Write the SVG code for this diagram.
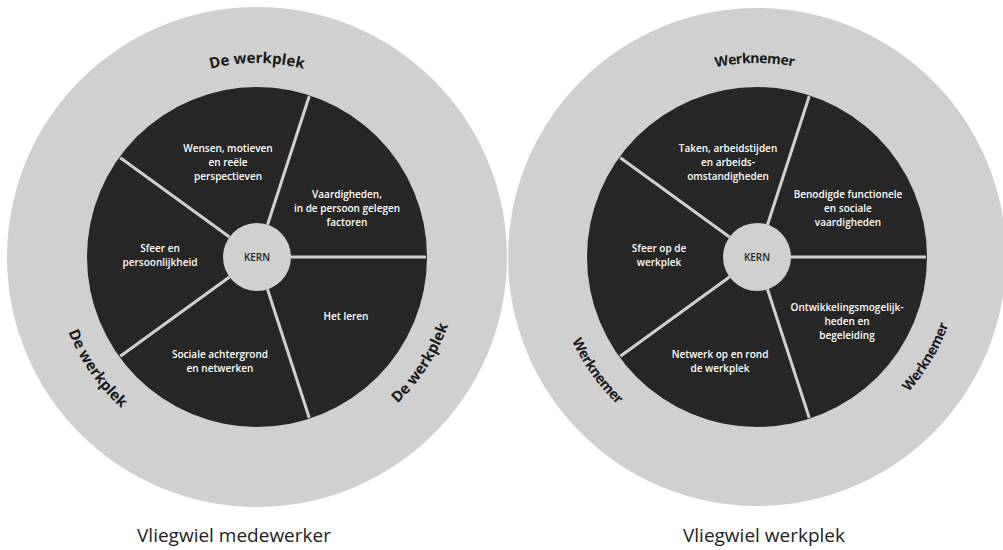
<svg xmlns="http://www.w3.org/2000/svg" width="1003" height="550" viewBox="0 0 1003 550">
  <style>
    .ring { fill: #d0d0d0; }
    .core { fill: #262626; }
    .kern { fill: #d0d0d0; }
    .divider { stroke: #d0d0d0; stroke-width: 3; }
    .seg { font-family: "Open Sans", "Liberation Sans", sans-serif; font-weight: 600; font-size: 10px; fill: #ffffff; text-anchor: middle; }
    .kern-label { font-family: "Open Sans", "Liberation Sans", sans-serif; font-weight: 600; font-size: 10px; fill: #262626; text-anchor: middle; }
    .rim { font-family: "Open Sans", "Liberation Sans", sans-serif; font-weight: 700; font-size: 15px; fill: #1a1a1a; text-anchor: middle; }
    .rim-tight { font-size: 14px; letter-spacing: -0.5px; }
    .caption { font-family: "Open Sans", "Liberation Sans", sans-serif; font-size: 19px; fill: #222222; text-anchor: middle; }
  </style>
  <defs>
    <!-- arcs for the rim labels: top arcs run clockwise, bottom arcs counter-clockwise -->
    <path id="arcTopL" d="M 63 257 A 194 194 0 0 1 451 257" fill="none"/>
    <path id="arcBotL" d="M 54 257 A 203 203 0 0 0 460 257" fill="none"/>
    <path id="arcTopR" d="M 563 257 A 194 194 0 0 1 951 257" fill="none"/>
    <path id="arcBotR" d="M 554 257 A 203 203 0 0 0 960 257" fill="none"/>
  </defs>

  <rect width="1003" height="550" fill="#ffffff"/>

  <!-- Flywheel: employee -->
  <g id="wheel-medewerker">
    <circle class="ring" cx="257" cy="257" r="250"/>
    <circle class="core" cx="257" cy="257" r="170"/>
  </g>

  <!-- Flywheel: workplace -->
  <g id="wheel-werkplek">
    <circle class="ring" cx="757" cy="257" r="249"/>
    <circle class="core" cx="757" cy="257" r="170"/>
  </g>

  <!-- Dividers between the segments -->
  <g id="connectors">
    <g transform="translate(257 257)">
      <line class="divider" x1="34" y1="0" x2="169" y2="0"/>
      <line class="divider" x1="34" y1="0" x2="169" y2="0" transform="rotate(72)"/>
      <line class="divider" x1="34" y1="0" x2="169" y2="0" transform="rotate(144)"/>
      <line class="divider" x1="34" y1="0" x2="169" y2="0" transform="rotate(216)"/>
      <line class="divider" x1="34" y1="0" x2="169" y2="0" transform="rotate(288)"/>
    </g>
    <g transform="translate(757 257)">
      <line class="divider" x1="34" y1="0" x2="169" y2="0"/>
      <line class="divider" x1="34" y1="0" x2="169" y2="0" transform="rotate(72)"/>
      <line class="divider" x1="34" y1="0" x2="169" y2="0" transform="rotate(144)"/>
      <line class="divider" x1="34" y1="0" x2="169" y2="0" transform="rotate(216)"/>
      <line class="divider" x1="34" y1="0" x2="169" y2="0" transform="rotate(288)"/>
    </g>
  </g>

  <!-- Left wheel nodes -->
  <g id="kern-l">
    <circle class="kern" cx="257" cy="257" r="34"/>
    <text class="kern-label" x="257" y="261">KERN</text>
  </g>
  <g id="seg-l-wensen">
    <text class="seg" x="228" y="152">Wensen, motieven</text>
    <text class="seg" x="228" y="166">en reële</text>
    <text class="seg" x="228" y="180">perspectieven</text>
  </g>
  <g id="seg-l-vaardigheden">
    <text class="seg" x="347" y="198">Vaardigheden,</text>
    <text class="seg" x="347" y="212">in de persoon gelegen</text>
    <text class="seg" x="347" y="226">factoren</text>
  </g>
  <g id="seg-l-sfeer">
    <text class="seg" x="160" y="252">Sfeer en</text>
    <text class="seg" x="160" y="266">persoonlijkheid</text>
  </g>
  <g id="seg-l-leren">
    <text class="seg" x="346" y="320">Het leren</text>
  </g>
  <g id="seg-l-sociaal">
    <text class="seg" x="220" y="358">Sociale achtergrond</text>
    <text class="seg" x="220" y="372">en netwerken</text>
  </g>
  <g id="rim-l">
    <text class="rim"><textPath href="#arcTopL" startOffset="50%">De werkplek</textPath></text>
    <text class="rim"><textPath href="#arcBotL" startOffset="19.4%">De werkplek</textPath></text>
    <text class="rim"><textPath href="#arcBotL" startOffset="81.7%">De werkplek</textPath></text>
  </g>

  <!-- Right wheel nodes -->
  <g id="kern-r">
    <circle class="kern" cx="757" cy="257" r="34"/>
    <text class="kern-label" x="757" y="261">KERN</text>
  </g>
  <g id="seg-r-taken">
    <text class="seg" x="728" y="152">Taken, arbeidstijden</text>
    <text class="seg" x="728" y="166">en arbeids-</text>
    <text class="seg" x="728" y="180">omstandigheden</text>
  </g>
  <g id="seg-r-benodigd">
    <text class="seg" x="848" y="198">Benodigde functionele</text>
    <text class="seg" x="848" y="212">en sociale</text>
    <text class="seg" x="848" y="226">vaardigheden</text>
  </g>
  <g id="seg-r-sfeer">
    <text class="seg" x="659" y="252">Sfeer op de</text>
    <text class="seg" x="659" y="266">werkplek</text>
  </g>
  <g id="seg-r-ontwikkeling">
    <text class="seg" x="847" y="311">Ontwikkelingsmogelijk-</text>
    <text class="seg" x="847" y="325">heden en</text>
    <text class="seg" x="847" y="339">begeleiding</text>
  </g>
  <g id="seg-r-netwerk">
    <text class="seg" x="720" y="358">Netwerk op en rond</text>
    <text class="seg" x="720" y="372">de werkplek</text>
  </g>
  <g id="rim-r">
    <text class="rim rim-tight"><textPath href="#arcTopR" startOffset="49.6%">Werknemer</textPath></text>
    <text class="rim rim-tight"><textPath href="#arcBotR" startOffset="19.7%">Werknemer</textPath></text>
    <text class="rim rim-tight"><textPath href="#arcBotR" startOffset="83%">Werknemer</textPath></text>
  </g>

  <!-- Captions -->
  <g id="captions">
    <text class="caption" x="234" y="542">Vliegwiel medewerker</text>
    <text class="caption" x="764" y="542">Vliegwiel werkplek</text>
  </g>
</svg>
